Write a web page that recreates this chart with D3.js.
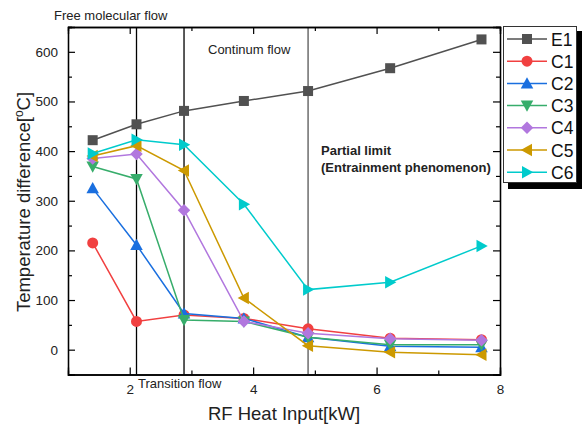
<!DOCTYPE html>
<html>
<head>
<meta charset="utf-8">
<script src="https://cdn.jsdelivr.net/npm/d3@7"></script>
<style>
  body { margin: 0; background: #fff; }
  text { font-family: Arial, "Liberation Sans", sans-serif; }
</style>
</head>
<body>
<div id="main"></div>
<script>
// heat input positions (kW)
var heatInput = [1.4, 2.11, 2.88, 3.85, 4.89, 6.22, 7.70];
var seriesNames = ["E1", "C1", "C2", "C3", "C4", "C5", "C6"];
var E1 = [422, 454, 481, 501, 521, 567, 625];
var C1 = [215, 57, 70, 63, 42, 23, 20];
var C2 = [325, 211, 73, 63, 25, 7, 5];
var C3 = [369, 344, 60, 57, 25, 10, 10];
var C4 = [385, 394, 281, 57, 33, 22, 19];
var C5 = [390, 411, 361, 104, 8, -5, -10];
var C6 = [395, 423, 413, 293, 121, 136, 209];
var colors = ["#515151", "#F14040", "#1A6FDF", "#37AD6B", "#B177DE", "#CC9900", "#00CBCC"];
var symbols = ["square", "circle", "up", "down", "diamond", "left", "right"];
var xTicks = [2, 4, 6, 8];
var yTicks = [0, 100, 200, 300, 400, 500, 600];
var regimeLines = [2.11, 2.88, 4.89];

var ctx = {
    w: 582,
    h: 427,
    left: 68,
    right: 500,
    top: 27,
    bottom: 374.5,
};

var makeSymbol = function(g, type, x, y, s, color){
    var p;
    if (type == "square"){
        g.append("rect").attr("x", x-s).attr("y", y-s).attr("width", 2*s).attr("height", 2*s).attr("fill", color);
        return;
    }
    if (type == "circle"){
        g.append("circle").attr("cx", x).attr("cy", y).attr("r", s+0.5).attr("fill", color);
        return;
    }
    var k = s*1.25;
    if (type == "up") p = [[x, y-k], [x+k, y+k*0.8], [x-k, y+k*0.8]];
    if (type == "down") p = [[x, y+k], [x+k, y-k*0.8], [x-k, y-k*0.8]];
    if (type == "left") p = [[x-k, y], [x+k*0.8, y-k], [x+k*0.8, y+k]];
    if (type == "right") p = [[x+k, y], [x-k*0.8, y-k], [x-k*0.8, y+k]];
    if (type == "diamond") p = [[x, y-k], [x+k, y], [x, y+k], [x-k, y]];
    g.append("polygon").attr("points", p.map(d => d.join(",")).join(" ")).attr("fill", color);
};

var createViz = function(){
    var data = [E1, C1, C2, C3, C4, C5, C6];
    var svg = d3.select("#main").append("svg").attr("width", ctx.w).attr("height", ctx.h);

    var x = d3.scaleLinear().domain([1, 8]).range([ctx.left, ctx.right]);
    var y = d3.scaleLinear().domain([-50, 650]).range([ctx.bottom, ctx.top]);

    // vertical regime lines
    regimeLines.forEach((v, i) => {
        svg.append("line")
          .attr("x1", x(v)).attr("x2", x(v))
          .attr("y1", ctx.top).attr("y2", ctx.bottom)
          .attr("stroke", i == 2 ? "#555" : "#000").attr("stroke-width", 1.3);
    });

    // series
    var line = d3.line().x((d, i) => x(heatInput[i])).y(d => y(d));
    data.forEach((vals, k) => {
        var g = svg.append("g");
        g.append("path").datum(vals).attr("d", line)
          .attr("fill", "none").attr("stroke", colors[k]).attr("stroke-width", 1.5);
        vals.forEach((v, i) => makeSymbol(g, symbols[k], x(heatInput[i]), y(v), 5, colors[k]));
    });

    // axes with inward ticks
    var minorY = [-50, 50, 150, 250, 350, 450, 550, 650];
    var ax = svg.append("g");
    ax.append("g").attr("transform", "translate(0," + ctx.bottom + ")")
      .call(d3.axisBottom(x).tickValues(xTicks).tickSize(-7).tickPadding(10).tickFormat(d3.format("d")));
    ax.append("g").attr("transform", "translate(0," + ctx.bottom + ")")
      .call(d3.axisBottom(x).tickValues([3, 5, 7]).tickSize(-4).tickFormat(""));
    ax.append("g").attr("transform", "translate(0," + ctx.top + ")")
      .call(d3.axisTop(x).tickValues(xTicks).tickSize(-7).tickFormat(""));
    ax.append("g").attr("transform", "translate(0," + ctx.top + ")")
      .call(d3.axisTop(x).tickValues([3, 5, 7]).tickSize(-4).tickFormat(""));
    ax.append("g").attr("transform", "translate(" + ctx.left + ",0)")
      .call(d3.axisLeft(y).tickValues(yTicks).tickSize(-7).tickPadding(10));
    ax.append("g").attr("transform", "translate(" + ctx.left + ",0)")
      .call(d3.axisLeft(y).tickValues(minorY).tickSize(-4).tickFormat(""));
    ax.append("g").attr("transform", "translate(" + ctx.right + ",0)")
      .call(d3.axisRight(y).tickValues(yTicks).tickSize(-7).tickFormat(""));
    ax.append("g").attr("transform", "translate(" + ctx.right + ",0)")
      .call(d3.axisRight(y).tickValues(minorY).tickSize(-4).tickFormat(""));
    ax.selectAll(".domain").attr("stroke", "#000").attr("stroke-width", 1.3);
    ax.selectAll(".tick line").attr("stroke", "#000").attr("stroke-width", 1.2);
    ax.selectAll(".tick text").attr("fill", "#222").attr("font-size", 13.5)
      .attr("font-family", "Arial, 'Liberation Sans', sans-serif");

    // axis titles
    svg.append("text").attr("x", 284).attr("y", 420).attr("text-anchor", "middle")
      .attr("font-size", 18.5).attr("fill", "#222").text("RF Heat Input[kW]");
    var yl = svg.append("text").attr("transform", "translate(30,202) rotate(-90)")
      .attr("text-anchor", "middle").attr("font-size", 18.5).attr("fill", "#222");
    yl.append("tspan").text("Temperature difference[");
    yl.append("tspan").attr("font-size", 12).attr("dy", -7).text("o");
    yl.append("tspan").attr("dy", 7).text("C]");

    // annotations
    svg.append("text").attr("x", 54).attr("y", 19.5).attr("font-size", 13).attr("fill", "#222").text("Free molecular flow");
    svg.append("text").attr("x", 208).attr("y", 54).attr("font-size", 13).attr("fill", "#222").text("Continum flow");
    svg.append("text").attr("x", 138).attr("y", 388).attr("font-size", 13).attr("fill", "#222").text("Transition flow");
    svg.append("text").attr("x", 321).attr("y", 155).attr("font-size", 13).attr("font-weight", "bold").attr("fill", "#222").text("Partial limit");
    svg.append("text").attr("x", 321).attr("y", 171.5).attr("font-size", 13).attr("font-weight", "bold").attr("fill", "#222").text("(Entrainment phenomenon)");

    // legend
    var lg = svg.append("g");
    lg.append("rect").attr("x", 508).attr("y", 31).attr("width", 74).attr("height", 158).attr("fill", "#000");
    lg.append("rect").attr("x", 503.5).attr("y", 26.5).attr("width", 73).attr("height", 156)
      .attr("fill", "#fff").attr("stroke", "#333").attr("stroke-width", 1);
    seriesNames.forEach((n, k) => {
        var ly = 39 + k * 22.2;
        lg.append("line").attr("x1", 507).attr("x2", 547).attr("y1", ly).attr("y2", ly)
          .attr("stroke", colors[k]).attr("stroke-width", 1.5);
        makeSymbol(lg, symbols[k], 527, ly, 5, colors[k]);
        lg.append("text").attr("x", 551).attr("y", ly + 6.5).attr("font-size", 17.5).attr("fill", "#111").text(n);
    });
};

createViz();
</script>
</body>
</html>
